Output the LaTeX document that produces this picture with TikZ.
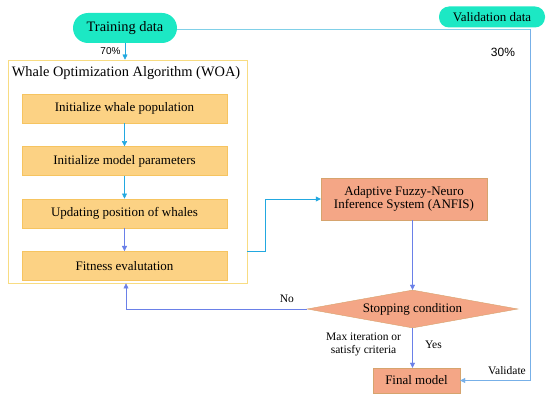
\documentclass[tikz,border=0pt]{standalone}
\usepackage{fontspec}
\setmainfont{Liberation Serif}
\newfontfamily\pctfont{Liberation Sans}
\usetikzlibrary{arrows.meta,positioning,shapes.geometric}
\definecolor{aquafill}{RGB}{28,232,196}
\definecolor{woaline}{RGB}{248,220,130}
\definecolor{boxfill}{RGB}{252,210,132}
\definecolor{boxline}{RGB}{246,196,96}
\definecolor{anfisfill}{RGB}{244,166,134}
\definecolor{anfisline}{RGB}{214,164,110}
\definecolor{cyanarrow}{RGB}{34,168,224}
\definecolor{bluearrow}{RGB}{106,128,232}
\definecolor{valline}{RGB}{128,208,232}

\begin{document}
\begin{tikzpicture}[x=1pt,y=-1pt,>={Triangle[length=5pt,width=5pt]},
  pill/.style={fill=aquafill, rounded corners=10pt, align=center},
  stepbox/.style={draw=boxline, fill=boxfill, minimum width=205pt,
    minimum height=29pt, font=\fontsize{13}{15}\selectfont},
  salmon/.style={draw=anfisline, fill=anfisfill, align=center,
    font=\fontsize{13}{15}\selectfont},
  lbl/.style={font=\fontsize{11.5}{13}\selectfont, align=center, text=black}]
  \useasboundingbox (0,0) rectangle (550,401);
  % data sources
  \node[pill, minimum width=104pt, minimum height=30pt, rounded corners=15pt,
    font=\fontsize{14.4}{16}\selectfont] (train) at (125,28) {Training data};
  \node[pill, minimum width=106pt, minimum height=21pt,
    font=\fontsize{13}{15}\selectfont] (valid) at (492,17) {Validation data};
  % WOA block
  \node[draw=woaline, line width=0.9pt, minimum width=239pt, minimum height=223pt] (woa) at (127.5,171.5) {};
  \node[font=\fontsize{14.4}{16}\selectfont] (woatitle) at (126,73) {Whale Optimization Algorithm (WOA)};
  \node[stepbox] (init) at (124.5,108.5) {Initialize whale population};
  \node[stepbox] (param) [below=23pt of init] {Initialize model parameters};
  \node[stepbox] (upd) [below=23pt of param] {Updating position of whales};
  \node[stepbox] (fit) [below=23pt of upd] {Fitness evalutation};
  % model and decision
  \node[salmon, minimum width=166pt, minimum height=42pt] (anfis) at (404,199)
    {Adaptive Fuzzy-Neuro\\[-2pt]Inference System (ANFIS)};
  \node[salmon, diamond, aspect=5.5, inner sep=1pt, minimum width=211pt,
    minimum height=38pt] (stop) at (412.5,309) {Stopping condition};
  \node[salmon, minimum width=87pt, minimum height=25pt] (final) at (416.5,380.5) {Final model};
  \coordinate (corner) at (530,29);
  \coordinate (fitout) at (265,251);
  \coordinate (nobend) at (126,309);
  % connectors
  \draw[->, cyanarrow] (train) -- node[pos=0.5, left=1pt, font=\pctfont\fontsize{10}{12}\selectfont, text=black] {70\%} (woa.north -| train);
  \draw[->, cyanarrow] (init) -- (param);
  \draw[->, cyanarrow] (param) -- (upd);
  \draw[->, bluearrow] (upd) -- (fit);
  \draw[->, cyanarrow] (woa.east |- fitout) -- (fitout) |- (anfis.west);
  \draw[->, bluearrow] (anfis.south -| stop.north) -- (stop.north);
  \draw[->, bluearrow] (stop.west) -- node[lbl, above=3pt, pos=0.11] {No} (nobend) -- (woa.south -| nobend);
  \draw[->, bluearrow] (stop.south) -- node[lbl, right=9pt, pos=0.42] {Yes}
    node[lbl, left=8pt, pos=0.42, font=\fontsize{11.5}{13}\selectfont] {Max iteration or\\satisfy criteria} (final.north -| stop.south);
  \draw[valline] (train.east |- corner) -- (corner);
  \draw[->, valline!60!bluearrow] (corner) |- node[lbl, pos=0.665, above=2pt] {Validate} (final.east);
  \node[font=\pctfont\fontsize{12}{14}\selectfont] (pct) at (503,52) {30\%};
\end{tikzpicture}
\end{document}
